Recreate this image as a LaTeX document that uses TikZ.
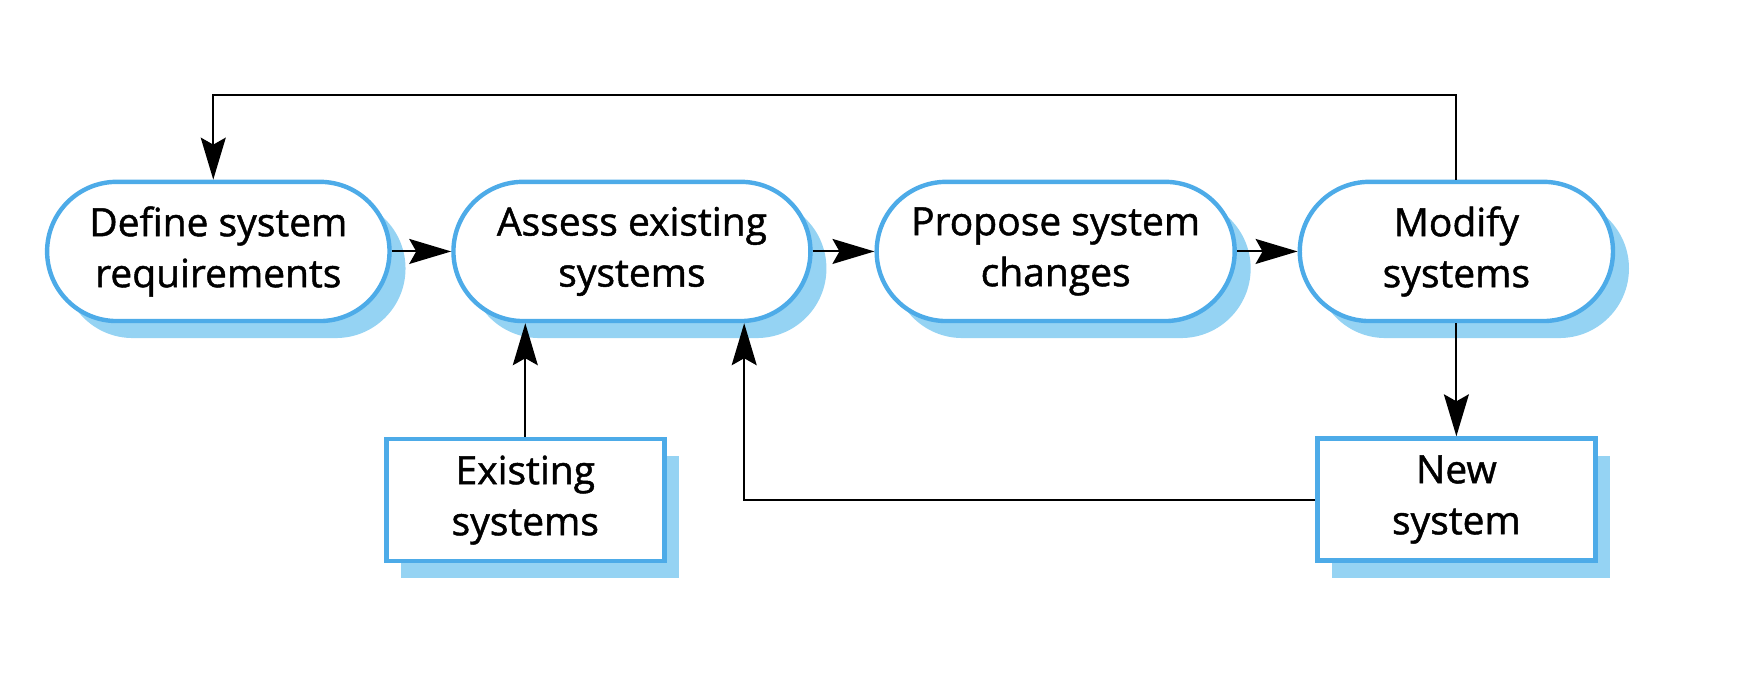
\documentclass[tikz,border=0pt]{standalone}
\usepackage{fontspec}
\setmainfont{Open Sans}[FakeBold=1.2]
\usetikzlibrary{arrows.meta,positioning,shadows}
\definecolor{boxblue}{RGB}{77,171,232}
\definecolor{shadeblue}{RGB}{149,211,243}
\tikzset{
  activity/.style={draw=boxblue, line width=2.2pt, fill=white,
    rounded corners=34.8pt, minimum height=69.6pt, inner sep=0pt,
    align=center, font=\fontsize{19.5}{25.5}\selectfont,
    drop shadow={shadow xshift=8pt, shadow yshift=-8.5pt,
      fill=shadeblue, opacity=1}},
  document/.style={draw=boxblue, line width=2.2pt, fill=white,
    minimum width=139pt, minimum height=61pt, inner sep=0pt,
    align=center, font=\fontsize{19.5}{25.5}\selectfont,
    drop shadow={shadow xshift=7.5pt, shadow yshift=-8.5pt,
      fill=shadeblue, opacity=1}},
  flow/.style={-{Stealth[length=21pt,width=12.5pt,inset=3.5pt]}, line width=1pt}
}
\begin{document}
\begin{tikzpicture}[x=0.5612pt,y=-0.5612pt]
  \useasboundingbox (0,0) rectangle (1568,620);
  % Process activities
  \node[activity, minimum width=171.2pt] (define) at (194.5,224) {Define system\\requirements};
  \node[activity, minimum width=178.5pt] (assess) at (563,224) {Assess existing\\systems};
  \node[activity, minimum width=179pt] (propose) at (940.5,224) {Propose system\\changes};
  \node[activity, minimum width=156.6pt] (modify) at (1297.5,224) {Modify\\systems};
  % Documents
  \node[document] (existing) at (468,445.5) {Existing\\systems};
  \node[document] (newsys) at (1297.5,445) {New\\system};
  % Flow between activities
  \draw[flow] (define) -- (assess);
  \draw[flow] (assess) -- (propose);
  \draw[flow] (propose) -- (modify);
  % Feedback loops
  \coordinate (loop) at (190,85);
  \draw[flow] (modify.north) |- (loop) -- (loop |- define.north);
  \coordinate (back) at (663,445);
  \draw[flow] (newsys.west) -- (back) -- (back |- assess.south);
  \draw[flow] (existing.north) -- (existing.north |- assess.south);
  \draw[flow] (modify.south) -- (modify.south |- newsys.north);
\end{tikzpicture}
\end{document}
